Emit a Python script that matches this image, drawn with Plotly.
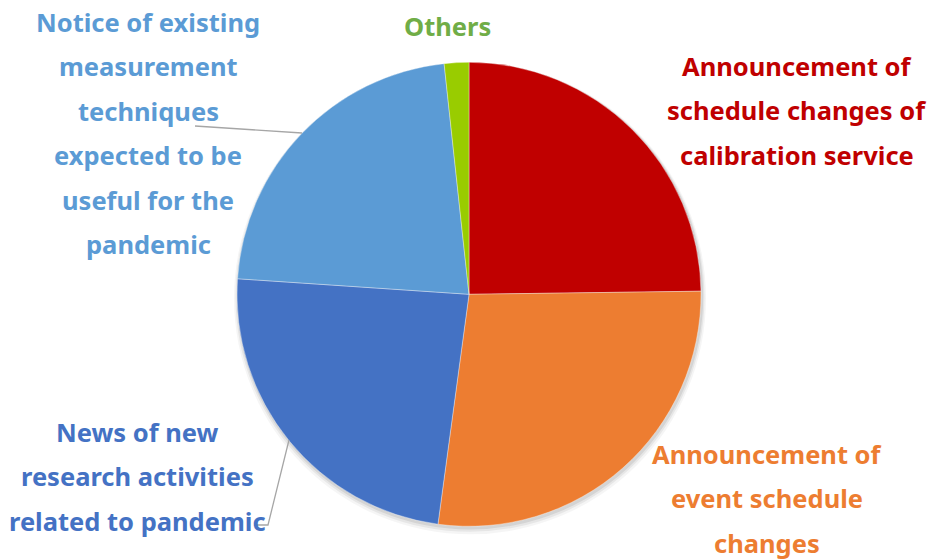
import plotly.graph_objects as go

labels = [
    "Announcement of schedule changes of calibration service",
    "Announcement of event schedule changes",
    "News of new research activities related to pandemic",
    "Notice of existing measurement techniques expected to be useful for the pandemic",
    "Others",
]
values = [29, 32, 28, 26, 2]
slice_colors = ["#C00000", "#ED7D31", "#4472C4", "#5B9BD5", "#99CC00"]
text_colors = ["#C00000", "#ED7D31", "#4472C4", "#5B9BD5", "#70AD47"]
label_lines = [
    ["Announcement of", "schedule changes of", "calibration service"],
    ["Announcement of", "event schedule", "changes"],
    ["News of new", "research activities", "related to pandemic"],
    ["Notice of existing", "measurement", "techniques", "expected to be", "useful for the", "pandemic"],
    ["Others"],
]
# label block placement (pixel centre x, first-line y)
label_pos = [(797, 66), (767, 454), (137, 432), (148, 22), (447, 26)]
LINE_GAP = 44.4

W, H = 934, 559
cx, cy, r = 469, 294.3, 232

def dom(cx_, cy_, r_):
    return dict(x=[(cx_ - r_) / W, (cx_ + r_) / W],
                y=[1 - (cy_ + r_) / H, 1 - (cy_ - r_) / H])

fig = go.Figure()
# soft shadow layers
for dy, dr, a in [(4, 4, 0.04), (3, 2.5, 0.06), (2, 1.2, 0.08)]:
    fig.add_trace(go.Pie(values=[1], marker=dict(colors=[f"rgba(0,0,0,{a})"]),
                         textinfo="none", hoverinfo="skip", showlegend=False,
                         domain=dom(cx + 1, cy + dy, r + dr), sort=False))

fig.add_trace(go.Pie(
    labels=labels, values=values, sort=False, direction="clockwise", rotation=0,
    marker=dict(colors=slice_colors, line=dict(color="rgba(255,255,255,0.6)", width=0.6)),
    textinfo="none", showlegend=False, domain=dom(cx, cy, r),
))

ann = []
for lines, (x, y0), col in zip(label_lines, label_pos, text_colors):
    for i, t in enumerate(lines):
        ann.append(dict(text=t, x=x / W, y=1 - (y0 + i * LINE_GAP) / H,
                        xref="paper", yref="paper", xanchor="center", yanchor="middle",
                        showarrow=False,
                        font=dict(family="Noto Sans", size=25.5, color=col, weight="bold")))

shapes = [
    dict(type="path", path=f"M {195/W},{1-126/H} L {302/W},{1-133/H}",
         xref="paper", yref="paper", line=dict(color="#A6A6A6", width=1.3)),
    dict(type="path", path=f"M {289/W},{1-440/H} L {268/W},{1-525/H} L {254/W},{1-525/H}",
         xref="paper", yref="paper", line=dict(color="#A6A6A6", width=1.3)),
]

fig.update_layout(width=W, height=H, margin=dict(l=0, r=0, t=0, b=0),
                  paper_bgcolor="white", plot_bgcolor="white",
                  annotations=ann, shapes=shapes)
fig.write_html("out.html", config={"displayModeBar": False},
               post_script="document.body.style.margin='0';")
